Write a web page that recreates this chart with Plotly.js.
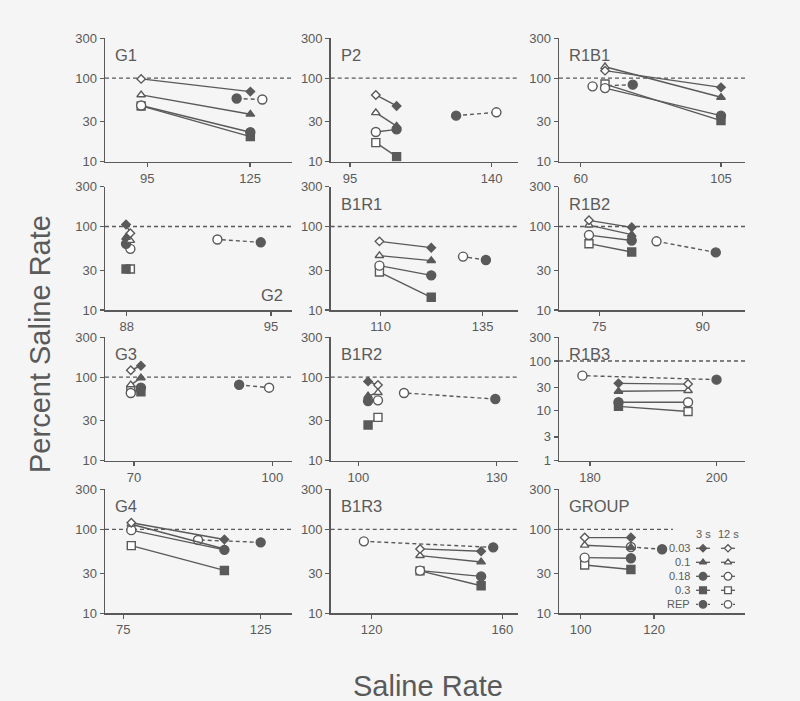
<!DOCTYPE html>
<html><head><meta charset="utf-8">
<script src="https://cdn.plot.ly/plotly-3.0.1.min.js"></script>
<style>html,body{margin:0;padding:0;background:#f5f5f5}</style>
</head><body><div id="chart" style="width:800px;height:701px"></div>
<script>
// ---- data ----
const panels = ['G1','P2','R1B1','G2','B1R1','R1B2','G3','B1R2','R1B3','G4','B1R3','GROUP'];
const doses = ['0.03','0.1','0.18','0.3'];
// saline rate (x) for the 12 s and 3 s conditions
const rate12 = [93.2,103.2,67.8,88.18,109.7,73.5,69.3,104.25,195.5,77.9,134.8,101.1];
const rate3  = [125.1,109.8,105,87.97,122.4,79.7,71.5,102.1,184.5,111.8,153.5,113.7];
// percent saline rate by dose
const dose003_12 = [98,63,123,83,66.4,118.6,121,80.6,34.5,120,58.5,79.8];
const dose003_3  = [69,46.5,77.6,106,55.8,97.8,137,89,35.7,75.6,54.8,79.8];
const dose01_12  = [63,38.6,137,68,44.8,104,81,65.2,25.5,115,48.6,64.7];
const dose01_3   = [37,26.7,59,74,39,80,98,59.5,24.7,58.4,40.9,61];
const dose018_12 = [47,22.7,76,54,34,79,64.6,52.8,14.9,97.8,32.2,46];
const dose018_3  = [22.5,24.4,35.6,62,26,68,75,51.9,14.9,57,27.5,45.2];
const dose03_12  = [46.5,16.9,85,31,28.5,62.3,70,33,9.7,64,32,37.6];
const dose03_3   = [20,11.5,31,31,14.2,49.5,67,26.7,12.3,32.4,21.3,33.3];
// REP
const repRate3  = [121.1,128.7,76.7,94.5,135.8,91.9,92.8,129.7,200,125,157.2,122.2];
const repPct3   = [57,35.6,83.6,64.7,39.7,49,81,54.7,42.4,70,61,57.9];
const repRate12 = [128.6,141.5,63.8,92.4,130.2,83.3,99.3,109.9,178.8,102.2,117.6,113.7];
const repPct12  = [55.6,39,79.8,70,43.6,66.5,74.8,64.7,51,74.8,72,61.7];
// tick labels
const xTicks = [[95,125],[95,140],[60,105],[88,95],[110,135],[75,90],[70,100],[100,130],[180,200],[75,125],[120,160],[100,120]];
const yTicks = [10,30,100,300];
const yTicksWide = [1,3,10,30,100,300];
const legendRows = ['0.03','0.1','0.18','0.3','REP'];
const legendCols = ['3 s','12 s'];
const refLevel = 100;

// ---- layout constants ----
const W = 800, H = 701;
const xRanges = [[82.64,137.18],[88.87,148.26],[53.04,112.7],[86.95,96.0],[97.75,143.6],[69.15,96.14],[63.71,104.2],[94.0,134.55],[175.1,204.5],[68.33,136.3],[107.45,164.7],[94.1,144.8]];
const colPx = [[105,291.7],[330.7,517.7],[559,745]];
const rowPx = [[38.3,161.7],[186.7,310],[337.3,460.7],[489.3,613.3]];
const C = '#5a5a5a';
const FONT = 'Liberation Sans, Arial, sans-serif';
const syms = ['diamond','triangle-up','circle','square'];
const sizes = [6.5,7.5,9,8];
const d12 = [dose003_12,dose01_12,dose018_12,dose03_12];
const d3 = [dose003_3,dose01_3,dose018_3,dose03_3];

const traces = [];
const layout = {
  width: W, height: H, margin: {l:0,r:0,t:0,b:0},
  paper_bgcolor: '#f5f5f5', plot_bgcolor: 'rgba(0,0,0,0)',
  showlegend: false, font: {family: FONT, color: C},
  shapes: [], annotations: []
};

panels.forEach((name, k) => {
  const n = k + 1;
  const xa = 'x' + n, ya = 'y' + n;
  const col = k % 3, row = Math.floor(k / 3);
  const wide = name === 'R1B3';
  layout['xaxis' + n] = {
    domain: [colPx[col][0]/W, colPx[col][1]/W], range: xRanges[k], anchor: ya,
    tickvals: xTicks[k], ticktext: xTicks[k].map(String),
    showline: true, linecolor: C, linewidth: 1.5, ticks: 'outside', ticklen: 4, tickwidth: 1.2, tickcolor: C,
    tickfont: {size: 13, color: C, family: FONT}, showgrid: false, zeroline: false, fixedrange: true
  };
  layout['yaxis' + n] = {
    type: 'log', domain: [1 - rowPx[row][1]/H, 1 - rowPx[row][0]/H],
    range: [wide ? 0 : 1, Math.log10(300)], anchor: xa,
    tickvals: wide ? yTicksWide : yTicks, ticktext: (wide ? yTicksWide : yTicks).map(String),
    showline: true, linecolor: C, linewidth: 1.5, ticks: 'outside', ticklen: 4, tickwidth: 1.2, tickcolor: C,
    tickfont: {size: 13, color: C, family: FONT}, showgrid: false, zeroline: false, fixedrange: true
  };
  layout.shapes.push({
    type: 'line', xref: xa + ' domain', yref: ya, x0: 0, x1: name === 'GROUP' ? 0.613 : 1,
    y0: refLevel, y1: refLevel, line: {color: C, width: 1.4, dash: '4px,3px'}, layer: 'below'
  });
  const g2 = name === 'G2';
  layout.annotations.push({
    text: name, xref: xa + ' domain', yref: ya + ' domain',
    x: g2 ? 0.964 : 0.043, y: g2 ? 0.122 : 0.862, xanchor: g2 ? 'right' : 'left', yanchor: 'middle',
    showarrow: false, font: {size: 16.5, color: C, family: FONT}
  });
  // REP
  traces.push({
    x: [repRate3[k], repRate12[k]], y: [repPct3[k], repPct12[k]], xaxis: xa, yaxis: ya,
    mode: 'lines+markers', line: {color: C, width: 1.4, dash: '4px,3px'},
    marker: {symbol: 'circle', size: 9, color: [C, 'white'], line: {color: C, width: 1.4}}, hoverinfo: 'skip'
  });
  // doses
  for (let i = 3; i >= 0; i--) {
    traces.push({
      x: [rate12[k], rate3[k]], y: [d12[i][k], d3[i][k]], xaxis: xa, yaxis: ya,
      mode: 'lines+markers', line: {color: C, width: 1.4},
      marker: {symbol: syms[i], size: sizes[i], color: ['white', C], line: {color: C, width: 1.4}},
      hoverinfo: 'skip'
    });
  }
});

// ---- legend (in GROUP panel) on a pixel overlay ----
const L = 13;
layout['xaxis' + L] = {domain: [0,1], range: [0, W], visible: false, anchor: 'y' + L, fixedrange: true};
layout['yaxis' + L] = {domain: [0,1], range: [H, 0], visible: false, anchor: 'x' + L, fixedrange: true};
const legTop = 548.3, legStep = 14, legLabelX = 692, legColX = [703, 728], legHeadY = 534;
legendCols.forEach((c, j) => layout.annotations.push({
  text: c, xref: 'paper', yref: 'paper', x: legColX[j]/W, y: 1 - legHeadY/H,
  xanchor: 'center', yanchor: 'middle', showarrow: false, font: {size: 11, color: C, family: FONT}
}));
legendRows.forEach((r, i) => {
  const yy = legTop + i * legStep;
  layout.annotations.push({
    text: r, xref: 'paper', yref: 'paper', x: legLabelX/W, y: 1 - yy/H,
    xanchor: 'right', yanchor: 'middle', showarrow: false, font: {size: 11, color: C, family: FONT}
  });
  const sym = i < 4 ? syms[i] : 'circle';
  const sz = i < 4 ? sizes[i] * 0.85 : 7.5;
  legColX.forEach((cx, j) => {
    traces.push({
      x: [cx - 7, cx + 7], y: [yy, yy], xaxis: 'x' + L, yaxis: 'y' + L, mode: 'lines',
      line: {color: C, width: 1.3, dash: i === 4 ? '2px,1px' : 'solid'}, hoverinfo: 'skip'
    });
    traces.push({
      x: [cx], y: [yy], xaxis: 'x' + L, yaxis: 'y' + L, mode: 'markers',
      marker: {symbol: sym, size: sz, color: j === 0 ? C : 'white', line: {color: C, width: 1.3}}, hoverinfo: 'skip'
    });
  });
});

// ---- overall axis titles ----
layout.annotations.push({
  text: 'Percent Saline Rate', xref: 'paper', yref: 'paper', x: 40/W, y: 1 - 344/H,
  textangle: -90, xanchor: 'center', yanchor: 'middle', showarrow: false,
  font: {size: 29, color: C, family: FONT}
});
layout.annotations.push({
  text: 'Saline Rate', xref: 'paper', yref: 'paper', x: 428/W, y: 1 - 686/H,
  xanchor: 'center', yanchor: 'middle', showarrow: false,
  font: {size: 29, color: C, family: FONT}
});

Plotly.newPlot('chart', traces, layout, {displayModeBar: false, staticPlot: true});
</script></body></html>
